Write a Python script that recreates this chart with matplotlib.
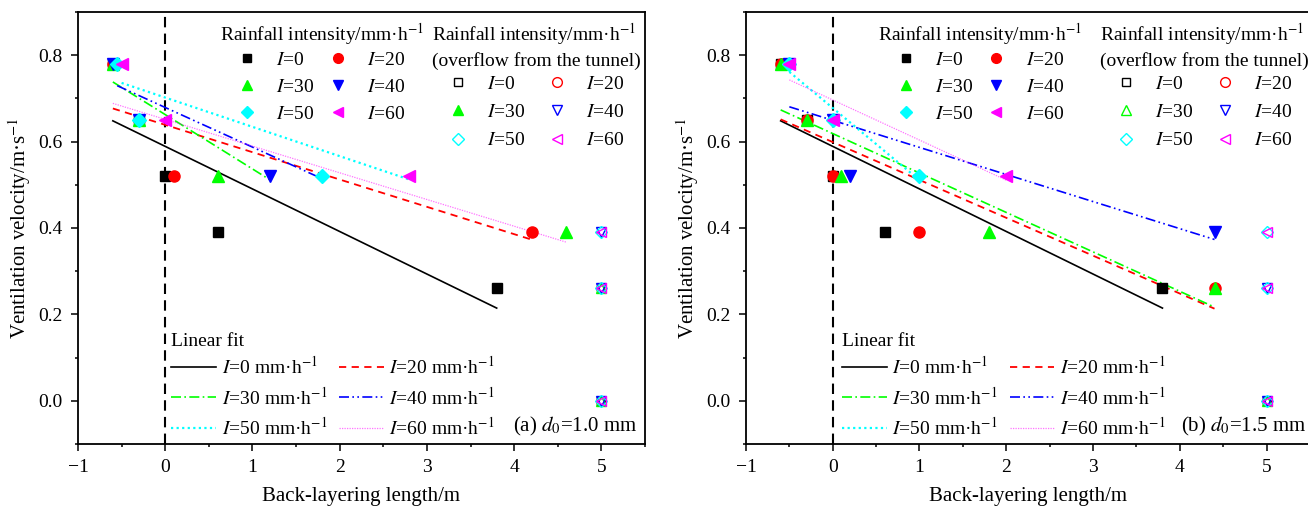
import numpy as np
import matplotlib
matplotlib.use("Agg")
import matplotlib.pyplot as plt
from matplotlib.lines import Line2D
from matplotlib.ticker import MultipleLocator

plt.rcParams['font.family'] = ['Liberation Serif', 'DejaVu Serif']
plt.rcParams['mathtext.fontset'] = 'stix'
plt.rcParams['font.size'] = 14

# ventilation velocities (m/s) tested, in order
vel = [0.78, 0.65, 0.52, 0.39, 0.26, 0.0]
intens = [0, 20, 30, 40, 50, 60]

# back-layering length (m) for each velocity until smoke overflows the tunnel
bl_a = {
    0: [-0.6, -0.3, 0.0, 0.6, 3.8],
    20: [-0.6, -0.3, 0.1, 4.2],
    30: [-0.6, -0.3, 0.6, 4.6],
    40: [-0.6, -0.3, 1.2],
    50: [-0.55, -0.3, 1.8],
    60: [-0.5, 0.0, 2.8],
}
bl_b = {
    0: [-0.6, -0.3, 0.0, 0.6, 3.8],
    20: [-0.6, -0.3, 0.0, 1.0, 4.4],
    30: [-0.6, -0.3, 0.1, 1.8, 4.4],
    40: [-0.5, 0.0, 0.2, 4.4],
    50: [-0.5, 0.0, 1.0],
    60: [-0.5, 0.0, 2.0],
}
overflow_x = 5.0

# which data set each fit-line style was fitted on (as drawn in the figure)
fit_src_a = {0: 0, 20: 20, 30: 40, 40: 50, 50: 60, 60: 30}
fit_src_b = {0: 0, 20: 20, 30: 30, 40: 40, 50: 50, 60: 60}

colors = {0: 'black', 20: '#ff0000', 30: '#00ff00', 40: '#0000ff', 50: '#00ffff', 60: '#ff00ff'}
markers = {0: 's', 20: 'o', 30: '^', 40: 'v', 50: 'D', 60: '<'}
msizes = {0: 7, 20: 8, 30: 8, 40: 8, 50: 7, 60: 8}
lstyles = {0: '-', 20: (0, (4, 3)), 30: (0, (6, 2, 1, 2)), 40: (0, (6, 2, 1, 2, 1, 2)),
           50: (0, (1, 1.5)), 60: (0, (1, 1))}
lwidths = {0: 1.2, 20: 1.3, 30: 1.2, 40: 1.2, 50: 1.6, 60: 0.9}
lalpha = {0: 1, 20: 1, 30: 1, 40: 1, 50: 1, 60: 0.55}

# legends fill column by column; this gives the row-wise order of the figure
order = [0, 2, 4, 1, 3, 5]


def panel(ax, bl, fit_src, tag, pos):
    ax.axvline(0, color='black', lw=1.5, ls=(0, (5, 3)), zorder=1)
    for I in intens:
        src = fit_src[I]
        xs = np.array(bl[src])
        ys = np.array(vel[:len(xs)])
        k, b = np.polyfit(xs, ys, 1)
        xf = np.array([xs.min(), xs.max()])
        ax.plot(xf, k * xf + b, color=colors[I], ls=lstyles[I], lw=lwidths[I],
                alpha=lalpha[I], zorder=2)
    for I in intens:
        xs = bl[I]
        ax.plot(xs, vel[:len(xs)], ls='none', marker=markers[I], color=colors[I],
                ms=msizes[I], zorder=3)
        ov = vel[len(xs):]
        ax.plot([overflow_x] * len(ov), ov, ls='none', marker=markers[I], mfc='none',
                mec=colors[I], mew=1.0, ms=msizes[I] - 1, zorder=3)

    ax.set_xlim(-1, 5.5)
    ax.set_ylim(-0.1, 0.9)
    ax.xaxis.set_major_locator(MultipleLocator(1))
    ax.xaxis.set_minor_locator(MultipleLocator(0.5))
    ax.yaxis.set_major_locator(MultipleLocator(0.2))
    ax.yaxis.set_minor_locator(MultipleLocator(0.1))
    ax.tick_params(which='major', direction='out', length=5, width=1.1, labelsize=14, pad=6)
    ax.tick_params(which='minor', direction='out', length=2.5, width=1.1)
    for s in ax.spines.values():
        s.set_linewidth(1.3)
    ax.set_xlabel('Back-layering length/m', fontsize=15, labelpad=8)
    ax.set_ylabel('Ventilation velocity/m·s$^{-1}$', fontsize=15, labelpad=4)

    labels = ['$I$=%d' % I for I in intens]
    h1 = [Line2D([], [], ls='none', marker=markers[I], color=colors[I], ms=msizes[I] - 1)
          for I in intens]
    leg1 = ax.legend([h1[i] for i in order], [labels[i] for i in order], ncol=2,
                     title='Rainfall intensity/mm·h$^{-1}$', frameon=False,
                     loc='upper left', bbox_to_anchor=(pos[0], 0.978), borderpad=0,
                     borderaxespad=0, handlelength=1.0, handletextpad=1.0,
                     columnspacing=0.7, labelspacing=0.5, fontsize=14,
                     title_fontsize=14)
    leg1._legend_box.sep = 2.5
    ax.add_artist(leg1)

    h2 = []
    for I in intens:
        filled = (tag == 'a' and I == 30)
        h2.append(Line2D([], [], ls='none', marker=markers[I], mec=colors[I],
                         mfc=colors[I] if filled else 'none', mew=1.0, ms=msizes[I] - 1))
    leg2 = ax.legend([h2[i] for i in order], [labels[i] for i in order], ncol=2,
                     title='Rainfall intensity/mm·h$^{-1}$\n(overflow from the tunnel)',
                     frameon=False, loc='upper left', bbox_to_anchor=(pos[1], 0.978),
                     borderpad=0, borderaxespad=0, handlelength=1.0, handletextpad=1.0,
                     columnspacing=1.1, labelspacing=0.55, fontsize=14, title_fontsize=14)
    leg2.get_title().set_linespacing(1.35)
    leg2._legend_box.sep = 3.5
    ax.add_artist(leg2)

    h3 = [Line2D([], [], color=colors[I], ls=lstyles[I], lw=lwidths[I], alpha=lalpha[I])
          for I in intens]
    lab3 = ['$I$=%d mm·h$^{-1}$' % I for I in intens]
    leg3 = ax.legend([h3[i] for i in order], [lab3[i] for i in order], ncol=2,
                     title='Linear fit', frameon=False,
                     loc='lower left', bbox_to_anchor=(pos[2], 0.012), borderpad=0,
                     borderaxespad=0, handlelength=2.3, handletextpad=0.3,
                     columnspacing=0.6, labelspacing=0.45, fontsize=14, title_fontsize=14)
    leg3._legend_box.align = 'left'
    leg3._legend_box.sep = 4

    d0 = '1.0' if tag == 'a' else '1.5'
    ax.text(pos[3], 0.04, '(%s) $d_0$=%s mm' % (tag, d0), transform=ax.transAxes,
            fontsize=15, va='center', ha='left')


fig = plt.figure(figsize=(13.08, 5.07), dpi=100)
ax1 = fig.add_axes([0.0596, 0.1243, 0.4335, 0.852])
ax2 = fig.add_axes([0.5703, 0.1243, 0.4312, 0.852])
panel(ax1, bl_a, fit_src_a, 'a', (0.25, 0.624, 0.164, 0.767))
panel(ax2, bl_b, fit_src_b, 'b', (0.234, 0.628, 0.170, 0.772))
fig.savefig('out.png', dpi=100)
